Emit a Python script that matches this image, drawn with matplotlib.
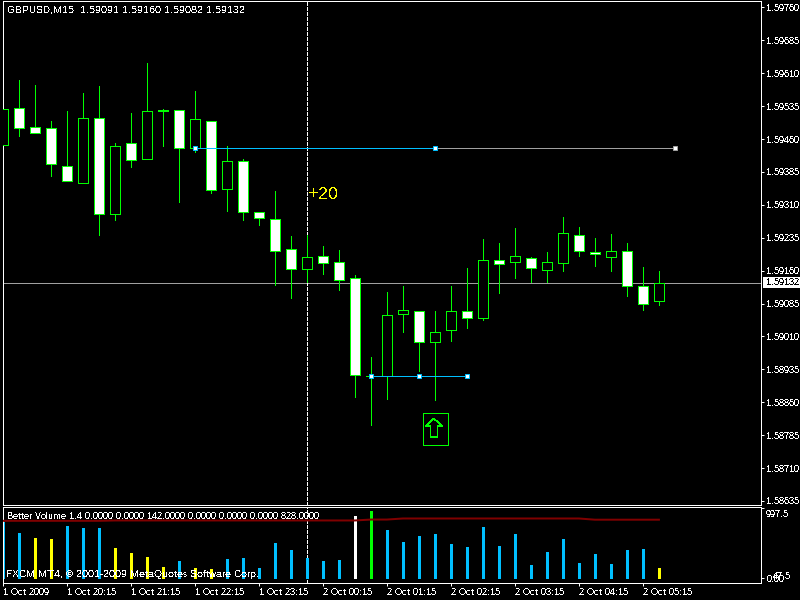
import matplotlib
matplotlib.use("Agg")
import matplotlib.pyplot as plt
from matplotlib.patches import Polygon, Rectangle
from matplotlib.transforms import Affine2D, blended_transform_factory

plt.rcParams['font.family'] = ['Liberation Sans', 'DejaVu Sans']
plt.rcParams['font.size'] = 6.5
plt.rcParams['text.antialiased'] = False
plt.rcParams['text.hinting'] = 'native'
plt.rcParams['text.hinting_factor'] = 1

# candles, oldest first
opens = [1.59446, 1.59531, 1.59488, 1.59485, 1.59399, 1.59359, 1.59508, 1.59288, 1.59451, 1.59415,
         1.59526, 1.59526, 1.59440, 1.59501, 1.59345, 1.59410, 1.59294, 1.59278, 1.59210, 1.59163,
         1.59194, 1.59180, 1.59143, 1.58920, 1.58920, 1.59060, 1.59068, 1.58997, 1.59024, 1.59068,
         1.59051, 1.59184, 1.59180, 1.59189, 1.59162, 1.59178, 1.59241, 1.59203, 1.59191, 1.59205,
         1.59125, 1.59091]
highs = [1.59605, 1.59595, 1.59584, 1.59500, 1.59523, 1.59566, 1.59580, 1.59452, 1.59520, 1.59634,
         1.59529, 1.59526, 1.59570, 1.59501, 1.59445, 1.59415, 1.59294, 1.59342, 1.59240, 1.59242,
         1.59215, 1.59206, 1.59151, 1.58962, 1.59112, 1.59126, 1.59069, 1.59069, 1.59124, 1.59165,
         1.59233, 1.59224, 1.59258, 1.59192, 1.59203, 1.59283, 1.59260, 1.59235, 1.59244, 1.59224,
         1.59169, 1.59160]
lows = [1.59422, 1.59466, 1.59474, 1.59375, 1.59364, 1.59359, 1.59242, 1.59276, 1.59396, 1.59415,
        1.59443, 1.59317, 1.59430, 1.59338, 1.59295, 1.59276, 1.59263, 1.59128, 1.59098, 1.59135,
        1.59153, 1.59115, 1.58871, 1.58807, 1.58868, 1.59019, 1.58932, 1.58866, 1.59000, 1.59030,
        1.59047, 1.59108, 1.59144, 1.59133, 1.59133, 1.59158, 1.59193, 1.59171, 1.59160, 1.59101,
        1.59070, 1.59082]
closes = [1.59529, 1.59485, 1.59474, 1.59403, 1.59364, 1.59508, 1.59288, 1.59444, 1.59412, 1.59524,
          1.59523, 1.59439, 1.59506, 1.59343, 1.59410, 1.59293, 1.59279, 1.59204, 1.59163, 1.59191,
          1.59177, 1.59138, 1.58921, 1.58920, 1.59059, 1.59070, 1.58997, 1.59020, 1.59068, 1.59051,
          1.59184, 1.59174, 1.59194, 1.59166, 1.59180, 1.59246, 1.59204, 1.59198, 1.59205, 1.59125,
          1.59084, 1.59132]

# better volume indicator
volumes = [795, 639, 568, 554, 738, 710, 710, 426, 355, 298,
           156, 241, 142, 128, 270, 284, 142, 497, 398, 284,
           241, 256, 880, 951, 682, 511, 596, 625, 483, 440,
           724, 454, 625, 185, 369, 554, 213, 341, 199, 398,
           412, 142]
vol_types = ['norm', 'norm', 'low', 'low', 'norm', 'norm', 'norm', 'low', 'low', 'low',
             'low', 'norm', 'low', 'low', 'norm', 'norm', 'norm', 'norm', 'norm', 'norm',
             'norm', 'norm', 'climax', 'churn', 'norm', 'norm', 'norm', 'norm', 'norm', 'norm',
             'norm', 'norm', 'norm', 'norm', 'norm', 'norm', 'norm', 'norm', 'norm', 'norm',
             'norm', 'low']
vol_ma = [812, 812, 812, 812, 812, 812, 812, 817, 817, 817,
          817, 817, 817, 817, 817, 817, 817, 817, 817, 817,
          817, 817, 817, 830, 830, 845, 845, 845, 845, 845,
          845, 845, 845, 845, 845, 845, 845, 828, 828, 828,
          828, 828]

price_ticks = [1.59760, 1.59685, 1.59610, 1.59535, 1.59460, 1.59385, 1.59310, 1.59235,
               1.59160, 1.59085, 1.59010, 1.58935, 1.58860, 1.58785, 1.58710, 1.58635]
time_bars = [0, 4, 8, 12, 16, 20, 24, 28, 32, 36, 40]
time_labels = ['1 Oct 2009', '1 Oct 20:15', '1 Oct 21:15', '1 Oct 22:15', '1 Oct 23:15', '2 Oct 00:15',
               '2 Oct 01:15', '2 Oct 02:15', '2 Oct 03:15', '2 Oct 04:15', '2 Oct 05:15']
last_price = 1.59132

# drawn objects on the chart
line1_bars = [12, 27, 42]
line1_price = 1.59440
line2_bars = [23, 26, 29]
line2_price = 1.58920
cursor_bar = 19
note_price = 1.59333
arrow_bar = 27
arrow_price = 1.58799

LIME = '#00ff00'
SKY = '#00bfff'
GRAY = '#a0a0a0'
LW = 0.72
DASH = (0, (3, 2))
vol_colors = {'norm': SKY, 'low': '#ffff00', 'climax': 'white', 'churn': LIME}

W, H = 800, 600
BAR_PX = 16.0
FIRST_PX = 2.9
LEFT, RIGHT = 2.5, 760.5
PRICE_PER_PX = 2.2796e-5
VOL_PER_PX = 14.2
ZERO_PX = 578.0


def panel(top, bottom):
    a = fig.add_axes([LEFT / W, 1 - bottom / H, (RIGHT - LEFT) / W, (bottom - top) / H])
    a.set_facecolor('black')
    a.set_xlim((LEFT - FIRST_PX) / BAR_PX, (RIGHT - FIRST_PX) / BAR_PX)
    for s in a.spines.values():
        s.set_color('white')
        s.set_linewidth(LW)
    a.tick_params(colors='white', width=LW, length=2.2, pad=2.2)
    a.yaxis.tick_right()
    return a


fig = plt.figure(figsize=(8, 6), dpi=100, facecolor='black')

# price panel
ax = panel(0.5, 504.5)
ax.set_ylim(last_price + (282.9 - 504.5) * PRICE_PER_PX, last_price + (282.9 - 0.5) * PRICE_PER_PX)
ax.set_xticks([])
ax.set_yticks(price_ticks)
ax.set_yticklabels(['%.5f' % p for p in price_ticks])

ax.axhline(last_price, color=GRAY, lw=LW, zorder=1, antialiased=False)
ax.axvline(cursor_bar, color='white', lw=LW, ls=DASH, zorder=1, antialiased=False)

bars = range(len(opens))
ax.vlines(bars, lows, highs, color=LIME, lw=LW, zorder=2, antialiased=False)
for i in bars:
    top = max(opens[i], closes[i])
    bot = min(opens[i], closes[i])
    face = 'white' if closes[i] < opens[i] else 'black'
    ax.add_patch(Rectangle((i - 5 / BAR_PX, bot), 10 / BAR_PX, top - bot, facecolor=face, snap=True,
                           edgecolor=LIME, lw=LW, zorder=3, antialiased=False))

# horizontal objects with their anchor points
ax.plot(line1_bars[1:], [line1_price] * 2, color=GRAY, lw=LW, zorder=4, antialiased=False)
ax.plot(line1_bars[:2], [line1_price] * 2, color=SKY, lw=LW, zorder=4, antialiased=False)
ax.plot(line1_bars[:2], [line1_price] * 2, ls='none', marker='s', ms=3.4, mfc='white', mec=SKY, mew=LW, zorder=5)
ax.plot(line1_bars[2:], [line1_price], ls='none', marker='s', ms=3.4, mfc='white', mec=GRAY, mew=LW, zorder=5)
ax.plot(line2_bars, [line2_price] * 3, color=SKY, lw=LW, marker='s', ms=3.4, mfc='white', mec=SKY, mew=LW,
        zorder=5, antialiased=False)

ax.annotate('+20', (cursor_bar, note_price), xytext=(1, 0), textcoords='offset points',
            color='#ffff00', fontsize=13, va='center', ha='left', zorder=6)

# buy arrow in its box, sized in screen pixels around the anchor
ax_anchor = ax.transData.transform((arrow_bar, arrow_price))
to_px = Affine2D().scale(1, -1).translate(*ax_anchor)
box = Rectangle((-11.5, -16), 24.5, 32, facecolor='none', edgecolor=LIME, lw=LW, transform=to_px,
                zorder=6, antialiased=False)
ax.add_patch(box)
arrow = Polygon([(-1, -10.5), (7, -2.8), (2.6, -2.8), (2.6, 7.8), (-4.4, 7.8), (-4.4, -2.8), (-9, -2.8)],
                closed=True, facecolor='none', edgecolor=LIME, lw=0.5, transform=to_px, zorder=6,
                antialiased=False)
ax.add_patch(arrow)

# current price flag
flag_tr = blended_transform_factory(fig.transFigure, ax.transData)
ax.add_patch(Rectangle((762.7 / W, last_price - 5.5 * PRICE_PER_PX), 37.3 / W, 11 * PRICE_PER_PX,
                       transform=flag_tr, facecolor='white', edgecolor='none', clip_on=False, zorder=7))
ax.text(766 / W, last_price, '%.5f' % last_price, transform=flag_tr, color='black', va='center',
        ha='left', clip_on=False, zorder=8)

fig.text(7 / W, 1 - 10.5 / H, 'GBPUSD,M15  1.59091 1.59160 1.59082 1.59132', color='white', va='center',
         fontsize=6.9)

# volume panel
vx = panel(506.5, 582.5)
vx.set_ylim((ZERO_PX - 582.5) * VOL_PER_PX, (ZERO_PX - 506.5) * VOL_PER_PX)
vx.axvline(cursor_bar, color='white', lw=LW, ls=DASH, zorder=1, antialiased=False)
vx.vlines(bars, 0, volumes, colors=[vol_colors[t] for t in vol_types], lw=2.16, zorder=2, antialiased=False)
vx.plot(bars, vol_ma, color='#800000', lw=1.44, zorder=3)

vx.set_xticks(time_bars)
vx.set_xticklabels(time_labels, ha='left')
vx.tick_params(axis='x', pad=1.5)
vx.set_yticks([0, 997.5])
vx.set_yticklabels(['0.00', ''])
vx.annotate('997.5', (1, 997.5), xycoords=('axes fraction', 'data'), xytext=(3.8, -1.4),
            textcoords='offset points', color='white', va='top', annotation_clip=False)
vx.annotate('47.5', (1, 47.5), xycoords=('axes fraction', 'data'), xytext=(8.6, -1),
            textcoords='offset points', color='white', va='center', annotation_clip=False)

fig.text(6.7 / W, 1 - 516.3 / H, 'Better Volume 1.4 0.0000 0.0000 142.0000 0.0000 0.0000 0.0000 828.0000',
         color='white', va='center', fontsize=6.8)
fig.text(6 / W, 1 - 574.7 / H, 'FXCM MT4, © 2001-2009 MetaQuotes Software Corp.', color='white', va='center',
         fontsize=7.2)

fig.savefig('out.png', dpi=100, facecolor='black')
